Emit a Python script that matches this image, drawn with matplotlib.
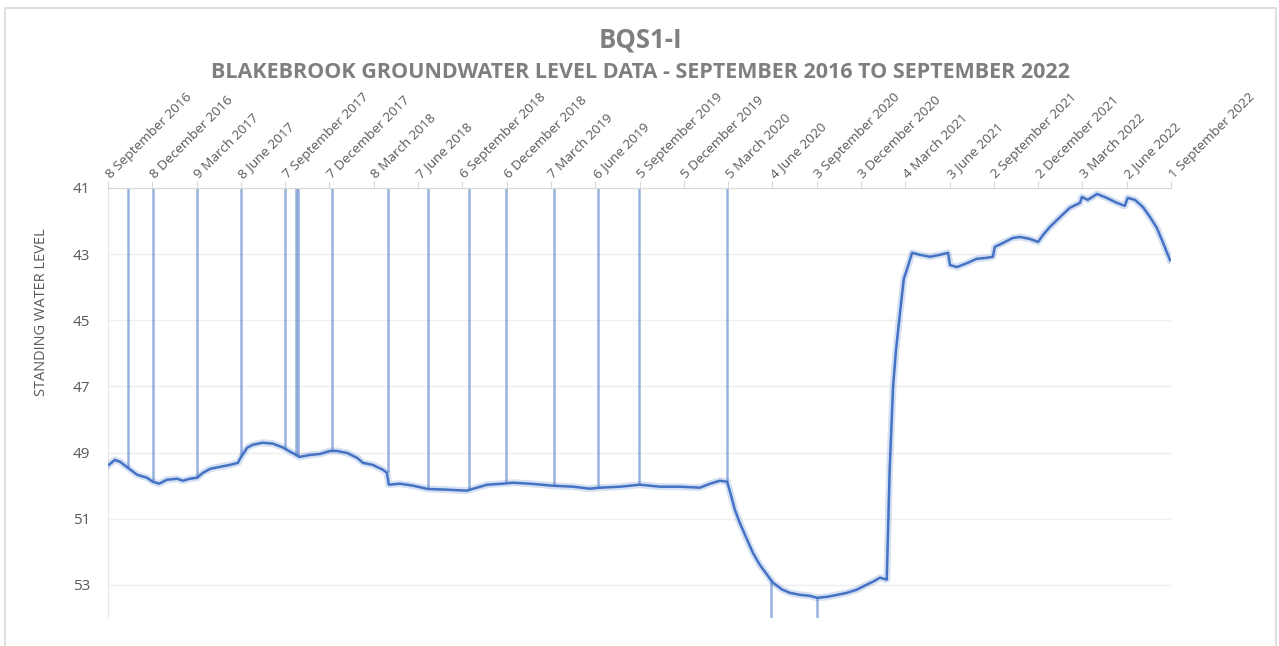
import pandas as pd
import numpy as np
import matplotlib
matplotlib.use('Agg')
import matplotlib.pyplot as plt
from matplotlib.patches import Rectangle

plt.rcParams['font.family'] = ['Open Sans', 'DejaVu Sans']

# Standing water level readings for BQS1-I (m below datum, axis is inverted)
level_dates = [
    '2016-09-10', '2016-09-22', '2016-10-03', '2016-10-19', '2016-11-07', '2016-11-27',
    '2016-12-09', '2016-12-22', '2017-01-07', '2017-01-28', '2017-02-09', '2017-02-23',
    '2017-03-10', '2017-03-22', '2017-04-06', '2017-04-26', '2017-05-17', '2017-06-02',
    '2017-06-06', '2017-06-21', '2017-07-03', '2017-07-23', '2017-08-13', '2017-09-03',
    '2017-09-17', '2017-10-07', '2017-10-28', '2017-11-18', '2017-12-08', '2017-12-22',
    '2018-01-12', '2018-02-02', '2018-02-14', '2018-03-06', '2018-03-27', '2018-04-04',
    '2018-04-08', '2018-05-01', '2018-05-28', '2018-06-27', '2018-08-05', '2018-09-15',
    '2018-10-06', '2018-10-27', '2018-11-28', '2018-12-19', '2019-01-23', '2019-03-11',
    '2019-04-21', '2019-05-26', '2019-06-16', '2019-07-27', '2019-09-06', '2019-10-17',
    '2019-11-27', '2020-01-07', '2020-01-28', '2020-02-17', '2020-03-03', '2020-03-09',
    '2020-03-19', '2020-03-29', '2020-04-13', '2020-04-25', '2020-05-09', '2020-05-24',
    '2020-06-05', '2020-06-24', '2020-07-10', '2020-07-31', '2020-08-20', '2020-09-04',
    '2020-09-24', '2020-10-15', '2020-11-04', '2020-11-25', '2020-12-15', '2020-12-28',
    '2021-01-11', '2021-01-25', '2021-01-31', '2021-02-07', '2021-02-13', '2021-02-21',
    '2021-03-01', '2021-03-09', '2021-03-18', '2021-04-03', '2021-04-24', '2021-05-14',
    '2021-05-31', '2021-06-04', '2021-06-18', '2021-07-09', '2021-07-29', '2021-08-19',
    '2021-08-31', '2021-09-04', '2021-09-21', '2021-10-11', '2021-10-26', '2021-11-15',
    '2021-12-02', '2021-12-12', '2021-12-26', '2022-01-16', '2022-02-05', '2022-02-26',
    '2022-03-02', '2022-03-14', '2022-04-02', '2022-04-22', '2022-05-13', '2022-05-29',
    '2022-06-04', '2022-06-19', '2022-07-05', '2022-07-20', '2022-08-03', '2022-08-15',
    '2022-08-30',
]
levels = [
    49.37, 49.22, 49.28, 49.46, 49.67, 49.76,
    49.88, 49.94, 49.82, 49.79, 49.85, 49.79,
    49.76, 49.61, 49.49, 49.43, 49.37, 49.31,
    49.19, 48.85, 48.76, 48.70, 48.73, 48.85,
    48.97, 49.13, 49.07, 49.04, 48.95, 48.95,
    49.01, 49.16, 49.31, 49.37, 49.52, 49.61,
    49.97, 49.94, 50.00, 50.10, 50.12, 50.15,
    50.06, 49.97, 49.94, 49.91, 49.94, 50.00,
    50.03, 50.09, 50.06, 50.03, 49.97, 50.03,
    50.03, 50.06, 49.94, 49.85, 49.88, 50.18,
    50.73, 51.12, 51.63, 52.03, 52.39, 52.69,
    52.93, 53.14, 53.24, 53.30, 53.33, 53.39,
    53.36, 53.30, 53.24, 53.14, 52.99, 52.90,
    52.78, 52.84, 49.50, 47.00, 45.90, 44.80,
    43.75, 43.39, 42.96, 43.02, 43.08, 43.02,
    42.96, 43.33, 43.39, 43.27, 43.14, 43.11,
    43.08, 42.78, 42.66, 42.51, 42.48, 42.54,
    42.63, 42.42, 42.18, 41.88, 41.60, 41.45,
    41.27, 41.36, 41.18, 41.30, 41.45, 41.54,
    41.30, 41.36, 41.57, 41.88, 42.21, 42.63,
    43.18,
]

# Logger dropouts: level at the time and the off-scale reading
spike_dates = [
    '2016-10-19', '2016-12-09', '2017-03-10', '2017-06-08', '2017-09-07', '2017-09-29',
    '2017-10-03', '2017-12-12', '2018-04-06', '2018-06-27', '2018-09-20', '2018-12-05',
    '2019-03-13', '2019-06-12', '2019-09-04', '2020-03-03', '2020-06-01', '2020-09-04',
]
spike_base = [
    49.46, 49.88, 49.76, 49.10, 48.88, 49.10,
    49.12, 48.95, 49.60, 50.10, 50.13, 49.93,
    50.00, 50.06, 49.98, 49.88, 52.85, 53.39,
]
spike_end = [
    41.0, 41.0, 41.0, 41.0, 41.0, 41.0,
    41.0, 41.0, 41.0, 41.0, 41.0, 41.0,
    41.0, 41.0, 41.0, 41.0, 54.0, 54.0,
]

tick_labels = [
    '8 September 2016', '8 December 2016', '9 March 2017', '8 June 2017',
    '7 September 2017', '7 December 2017', '8 March 2018', '7 June 2018',
    '6 September 2018', '6 December 2018', '7 March 2019', '6 June 2019',
    '5 September 2019', '5 December 2019', '5 March 2020', '4 June 2020',
    '3 September 2020', '3 December 2020', '4 March 2021', '3 June 2021',
    '2 September 2021', '2 December 2021', '3 March 2022', '2 June 2022',
    '1 September 2022',
]
y_ticks = [41, 43, 45, 47, 49, 51, 53]

dates = pd.to_datetime(level_dates)
sp_dates = pd.to_datetime(spike_dates)
tick_dates = pd.to_datetime(tick_labels, format='%d %B %Y')

W, H = 1279, 646
fig = plt.figure(figsize=(W / 100, H / 100), dpi=100)
fig.patch.set_facecolor('white')

# outer chart border (bottom edge runs off the canvas)
fig.patches.append(Rectangle((5 / W, -10 / H), 1271 / W, 648 / H,
                             transform=fig.transFigure, fill=False,
                             edgecolor='#d9d9d9', linewidth=1.2))

ax = fig.add_axes([108 / W, 1 - 618 / H, (1171 - 108) / W, (618 - 188) / H])

blue = '#4472C4'
ax.vlines(sp_dates, spike_base, spike_end, color=blue, alpha=0.55, linewidth=1.8, zorder=2)
ax.plot(dates, levels, color=blue, linewidth=5, alpha=0.22, zorder=3,
        solid_joinstyle='round')
ax.plot(dates, levels, color=blue, linewidth=1.8, zorder=4, solid_joinstyle='round')

ax.set_ylim(54, 41)
ax.set_xlim(tick_dates[0], tick_dates[-1])
ax.set_yticks(y_ticks)
ax.set_yticklabels([str(v) for v in y_ticks])
ax.grid(axis='y', color='#efefef', linewidth=1)
ax.set_axisbelow(True)

ax.xaxis.tick_top()
ax.set_xticks(tick_dates)
ax.set_xticklabels(tick_labels, rotation=45, ha='left', va='center',
                   rotation_mode='anchor', fontsize=9.7, color='#595959')
ax.tick_params(axis='x', which='major', length=5, color='#d9d9d9', pad=3)
ax.tick_params(axis='y', length=0, labelsize=11, labelcolor='#595959', pad=13)

for side in ['right', 'bottom']:
    ax.spines[side].set_visible(False)
ax.spines['top'].set_color('#d9d9d9')
ax.spines['left'].set_color('#e6e6e6')

fig.text(42 / W, 1 - 312 / H, 'STANDING WATER LEVEL', rotation=90, ha='center',
         va='center', fontsize=10.5, color='#595959')

fig.text(640 / W, 1 - 40 / H, 'BQS1-I', ha='center', va='center',
         fontsize=18.5, fontweight='bold', color='#7f7f7f')
fig.text(640 / W, 1 - 72 / H, 'BLAKEBROOK GROUNDWATER LEVEL DATA - SEPTEMBER 2016 TO SEPTEMBER 2022',
         ha='center', va='center', fontsize=15.5, fontweight='bold', color='#7f7f7f')

fig.savefig('out.png', dpi=100)
